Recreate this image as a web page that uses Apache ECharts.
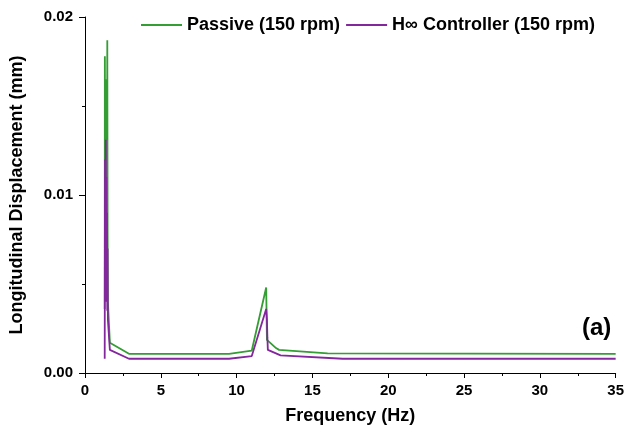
<!DOCTYPE html>
<html>
<head>
<meta charset="utf-8">
<script src="https://cdn.jsdelivr.net/npm/echarts@6/dist/echarts.min.js"></script>
<style>html,body{margin:0;padding:0;background:#fff;}#c{width:627px;height:430px;}</style>
</head>
<body>
<div id="c"></div>
<script>
// Frequency (Hz) and displacement (mm)
var passiveFreq = [1.30, 1.31, 1.33, 1.35, 1.37, 1.39, 1.41, 1.43, 1.45, 1.47, 1.49, 1.51, 1.64, 2.9, 9.5, 11.0, 11.95, 12.0, 12.6, 12.8, 16.0, 35];
var passiveVal  = [0.0036, 0.0178, 0.0095, 0.0165, 0.0060, 0.0150, 0.0085, 0.0140, 0.0070, 0.0187, 0.0080, 0.0040, 0.0017, 0.00108, 0.00108, 0.00126, 0.0048, 0.00186, 0.0014, 0.0013, 0.00110, 0.00108];
var hinfFreq = [1.30, 1.32, 1.34, 1.37, 1.39, 1.41, 1.43, 1.45, 1.47, 1.49, 1.51, 1.64, 2.9, 9.5, 11.0, 11.95, 12.0, 12.03, 12.06, 12.9, 17.0, 35];
var hinfVal  = [0.0008, 0.0120, 0.0050, 0.0131, 0.0040, 0.0110, 0.0060, 0.0090, 0.0035, 0.0070, 0.0030, 0.0013, 0.0008, 0.0008, 0.00095, 0.0036, 0.0030, 0.0020, 0.0013, 0.00099, 0.0008, 0.0008];
var seriesNames = ['Passive (150 rpm)', 'H\u221e Controller (150 rpm)'];
var xTicks = [0, 5, 10, 15, 20, 25, 30, 35];
var yTicks = [0.00, 0.01, 0.02];

function zip(a, b) { return a.map(function (v, i) { return [v, b[i]]; }); }

var font = 'Liberation Sans, Arial, sans-serif';
var chart = echarts.init(document.getElementById('c'));
chart.setOption({
  animation: false,
  backgroundColor: '#fff',
  grid: { left: 85, right: 10, top: 17, bottom: 55 },
  legend: {
    top: 16, left: 141, padding: 0,
    itemGap: 6, itemWidth: 41, itemHeight: 2, icon: 'rect',
    textStyle: { fontFamily: font, fontWeight: 'bold', fontSize: 18, color: '#000' },
    data: seriesNames
  },
  xAxis: {
    type: 'value', min: 0, max: 35, interval: 5,
    name: 'Frequency (Hz)', nameLocation: 'middle', nameGap: 34,
    nameTextStyle: { fontFamily: font, fontWeight: 'bold', fontSize: 18, color: '#000' },
    axisLine: { show: true, lineStyle: { color: '#000', width: 1 } },
    axisTick: { show: true, inside: false, length: 5, lineStyle: { color: '#000' } },
    minorTick: { show: true, splitNumber: 2, length: 3, lineStyle: { color: '#000' } },
    axisLabel: { fontFamily: font, fontWeight: 'bold', fontSize: 15, color: '#000', margin: 10,
      formatter: function (v) { return xTicks.indexOf(v) >= 0 ? String(v) : ''; } },
    splitLine: { show: false }
  },
  yAxis: {
    type: 'value', min: 0, max: 0.02, interval: 0.01,
    name: 'Longitudinal Displacement (mm)', nameLocation: 'middle', nameGap: 59,
    nameTextStyle: { fontFamily: font, fontWeight: 'bold', fontSize: 18, color: '#000' },
    axisLine: { show: true, lineStyle: { color: '#000', width: 1 } },
    axisTick: { show: true, inside: false, length: 6, lineStyle: { color: '#000' } },
    minorTick: { show: true, splitNumber: 2, length: 3, lineStyle: { color: '#000' } },
    axisLabel: { fontFamily: font, fontWeight: 'bold', fontSize: 15, color: '#000', margin: 12,
      formatter: function (v) { return v.toFixed(2); } },
    splitLine: { show: false }
  },
  graphic: [{
    type: 'text', left: 582, top: 316,
    style: { text: '(a)', font: 'bold 24px Liberation Sans, Arial, sans-serif', fill: '#000' }
  }],
  series: [
    { name: seriesNames[0], type: 'line', data: zip(passiveFreq, passiveVal), showSymbol: false, symbol: 'none',
      lineStyle: { color: '#349d34', width: 1.8 }, itemStyle: { color: '#349d34' }, z: 2 },
    { name: seriesNames[1], type: 'line', data: zip(hinfFreq, hinfVal), showSymbol: false, symbol: 'none',
      lineStyle: { color: '#83279c', width: 1.8 }, itemStyle: { color: '#83279c' }, z: 3 }
  ]
});
</script>
</body>
</html>
